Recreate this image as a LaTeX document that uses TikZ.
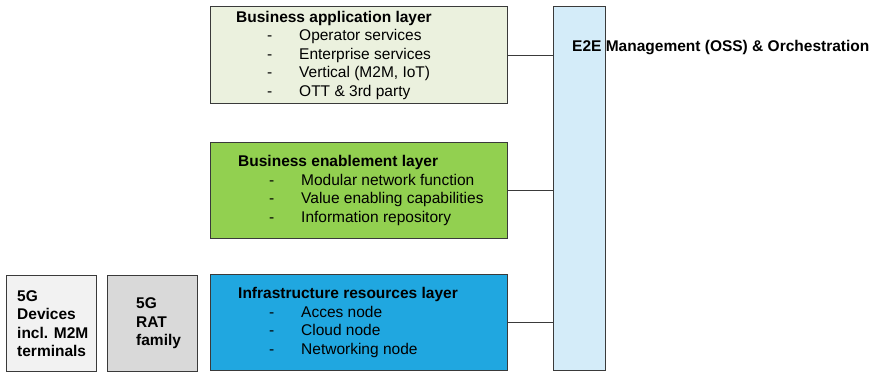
\documentclass[tikz,border=0pt]{standalone}
\usepackage{fontspec}
\setmainfont{Liberation Sans}
\usepackage{tikz}
\usetikzlibrary{positioning,calc}

\definecolor{appgreen}{HTML}{EBF1DE}
\definecolor{enablegreen}{HTML}{92D050}
\definecolor{infrablue}{HTML}{20A7E0}
\definecolor{orchblue}{HTML}{D4ECF9}
\definecolor{devgray}{HTML}{F2F2F2}
\definecolor{ratgray}{HTML}{D9D9D9}
\definecolor{edgegray}{HTML}{3A3A3A}

\newcommand{\layeritem}[1]{\makebox[63pt][l]{\hspace*{31pt}-}#1}

\tikzset{
    boxframe/.style={draw=edgegray, line width=1.2pt, anchor=north west, inner sep=0pt},
    layerbox/.style={boxframe, minimum width=297pt, minimum height=96pt},
    layertext/.style={inner sep=0pt, align=left, font=\fontsize{15.5pt}{18.5pt}\selectfont},
    sidebox/.style={boxframe, minimum width=90pt, minimum height=96pt},
    sidetext/.style={inner sep=0pt, align=left, font=\fontsize{15.5pt}{18.5pt}\selectfont\bfseries},
    link/.style={draw=edgegray, line width=1.2pt}
}

\begin{document}
\begin{tikzpicture}[x=1pt, y=-1pt]
    \useasboundingbox (0,0) rectangle (872,372);

    % layers
    \node[layerbox, fill=appgreen, minimum height=97pt] (app) at (210,6) {};
    \node[layertext, right=26pt of app.west] (apptext) {
        \textbf{Business application layer}\\
        \layeritem{Operator services}\\
        \layeritem{Enterprise services}\\
        \layeritem{Vertical (M2M, IoT)}\\
        \layeritem{OTT \& 3rd party}
    };

    \node[layerbox, fill=enablegreen] (enable) at (210,142) {};
    \node[layertext, right=28pt of enable.west] (enabletext) {
        \textbf{Business enablement layer}\\
        \layeritem{Modular network function}\\
        \layeritem{Value enabling capabilities}\\
        \layeritem{Information repository}
    };

    \node[layerbox, fill=infrablue] (infra) at (210,274) {};
    \node[layertext, right=28pt of infra.west] (infratext) {
        \textbf{Infrastructure resources layer}\\
        \layeritem{Acces node}\\
        \layeritem{Cloud node}\\
        \layeritem{Networking node}
    };

    % devices and RAT
    \node[sidebox, fill=devgray] (devices) at (6,275) {};
    \node[sidetext, right=11pt of devices.west] (devicestext) {5G\\Devices\\incl. M2M\\terminals};

    \node[sidebox, fill=ratgray] (rat) at (107,275) {};
    \node[sidetext, right=29pt of rat.west] (rattext) {5G\\RAT\\family};

    % management and orchestration
    \node[boxframe, fill=orchblue, minimum width=52pt, minimum height=364pt] (orch) at (553,6) {};
    \node[sidetext, anchor=west] (orchtext) at (572,48) {E2E Management (OSS) \& Orchestration};

    \draw[link] (app.east) -- (app.east -| orch.west);
    \draw[link] (enable.east) -- (enable.east -| orch.west);
    \draw[link] (infra.east) -- (infra.east -| orch.west);
\end{tikzpicture}
\end{document}
